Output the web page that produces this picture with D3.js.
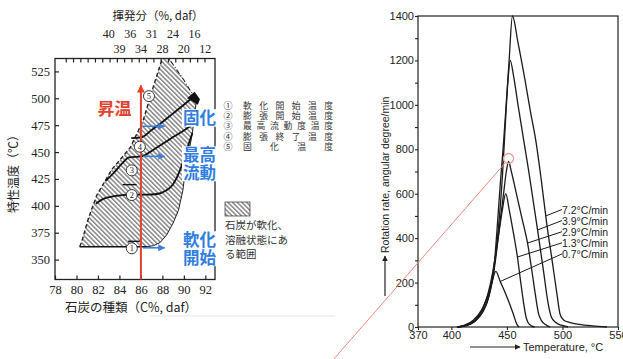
<!DOCTYPE html>
<meta charset="utf-8">
<style>
body { margin: 0; background: #fff; }
svg { display: block; }
</style>
<svg width="623" height="359"></svg>
<script src="https://cdn.jsdelivr.net/npm/d3@7"></script>
<script>
// ---- left figure: characteristic temperatures vs coal rank ----
var carbonTicks = [78, 80, 82, 84, 86, 88, 90, 92];
var tempTicks = [350, 375, 400, 425, 450, 475, 500, 525];
var vmCarbon = [83, 84, 85, 86, 87, 88, 89, 90, 91, 92];
var vmLabels = ["40", "39", "36", "34", "31", "28", "24", "20", "16", "12"];

// softened / molten zone outline (C%, temperature)
var zoneLeft = [[80.3,362],[80.5,367],[81.1,388],[81.9,410],[83.3,434],[85.0,454],[86.2,479],[87.1,509],[87.8,531],[88.0,537]];
var zoneUpper = [[88.0,537],[88.6,537],[89.3,527],[90.0,517],[90.6,507],[91.2,499]];
var zoneRight = [[91.2,499],[91.0,486],[90.8,468],[90.5,452],[90.2,437],[89.9,414],[89.5,396],[89.0,384],[88.4,373],[87.8,366],[87.2,363],[86.6,362],[80.3,362]];

var curve2 = [[81.8,402],[82.5,406.5],[83.5,409],[85,410.5],[86.5,410.5],[87.5,411],[88.3,414],[89,420],[89.6,432],[90.2,450],[90.8,468]];
var curve3 = [[82.7,423],[83.5,431],[84.3,440],[84.9,445],[86.1,446],[87,451],[88,457.5],[89,464],[90,470],[90.9,476]];
var curve4 = [[85.1,463],[86.0,463.5],[87,470.5],[88,478],[89,486],[90,494],[90.6,499]];
var blob = [[90.3,500],[91.0,506],[91.5,499],[91.3,494]];
var markBars = [[84.8,85.9,367],[84.3,85.6,419.7]];

var markNames = ["軟化開始温度", "膨張開始温度", "最高流動度温度", "膨張終了温度", "固化温度"];
var markSymbols = ["①", "②", "③", "④", "⑤"];
var markPoints = [[85.15,360.5],[85.15,410],[85.15,433],[85.9,455],[86.75,502]];
var riseCarbon = 86, riseTop = 512;
var blueArrows = [474, 446, 361];
var blueLabels = [["固化"], ["最高", "流動"], ["軟化", "開始"]];
var blueLabelTemps = [481.5, 447, 368];
var zoneNote = ["石炭が軟化、", "溶融状態にあ", "る範囲"];

// ---- right figure: rotation rate vs temperature ----
var rates = ["7.2°C/min", "3.9°C/min", "2.9°C/min", "1.3°C/min", "0.7°C/min"];
var rate72 = [[405,0],[412,5],[420,22],[427,60],[432,115],[436,200],[439,300],[441,430],[444,640],[447,830],[450,1050],[452,1200],[455,1400],[460,1280],[466,1120],[471,975],[476,840],[481,660],[486,460],[491,290],[495,150],[498,55],[501,32],[507,20],[515,12],[527,5],[540,0]];
var rate39 = [[406,0],[413,6],[421,25],[428,65],[433,125],[437,215],[440,330],[443,480],[446,680],[449,950],[451,1110],[453,1200],[456,1130],[460,1000],[465,845],[470,690],[477.6,437],[483,250],[487,110],[490,45],[494,20],[499,8],[505,0]];
var rate29 = [[406,0],[414,7],[422,30],[429,75],[434,140],[438,240],[441,350],[444,480],[447,600],[449.5,700],[451.5,745],[454,700],[459,590],[464,480],[468.6,378],[472,270],[475.5,150],[478.5,60],[481,30],[485,10],[489,0]];
var rate13 = [[406,0],[413,8],[421,32],[428,80],[433,150],[437,240],[440,330],[443,430],[446,530],[449,600],[452,530],[456,420],[459.5,315],[462.5,200],[465,110],[467,50],[469,20],[472,5],[475,0]];
var rate07 = [[405,0],[412,8],[420,32],[427,75],[432,130],[436,190],[440,250],[444,205],[448,160],[452,110],[456,55],[459,12],[461,0]];
var rateSeries = [rate72, rate39, rate29, rate13, rate07];
var labelT = [485, 477.6, 468.6, 459.5, 444];
var rotTicks = [0, 200, 400, 600, 800, 1000, 1200, 1400];
var tempTicksR = [370, 400, 450, 500, 550];

var serif = "'Liberation Serif', 'DejaVu Serif', serif";
var jp = "'Noto Sans CJK JP', sans-serif";
var sans = "'Liberation Sans', Arial, sans-serif";

var svg = d3.select("svg");
var defs = svg.append("defs");
defs.append("pattern").attr("id", "hatch").attr("patternUnits", "userSpaceOnUse")
    .attr("width", 3.3).attr("height", 3.3).attr("patternTransform", "rotate(-45)")
  .append("line").attr("x1", 1.6).attr("y1", 0).attr("x2", 1.6).attr("y2", 3.3)
    .attr("stroke", "#2a2a2a").attr("stroke-width", 0.85);

function arrowMarker(id, color, size) {
  defs.append("marker").attr("id", id).attr("viewBox", "0 0 10 10")
      .attr("refX", 9).attr("refY", 5).attr("markerWidth", size).attr("markerHeight", size)
      .attr("markerUnits", "userSpaceOnUse").attr("orient", "auto")
    .append("path").attr("d", "M0,0L10,5L0,10z").attr("fill", color);
}
arrowMarker("arRed", "#e2412d", 8);
arrowMarker("arBlue", "#3b7fd8", 7);
arrowMarker("arBlack", "#222", 6);

// faint scan line
svg.append("line").attr("x1", 150).attr("x2", 335).attr("y1", 316).attr("y2", 316)
    .attr("stroke", "#e6e6e6").attr("stroke-width", 1);

// ================= left chart =================
var xL = d3.scaleLinear().domain([78, 92.9]).range([55, 215]);
var yL = d3.scaleLinear().domain([331.5, 537]).range([279.5, 58.5]);
var lineL = d3.line().x(function(d) { return xL(d[0]); }).y(function(d) { return yL(d[1]); });
var smoothL = d3.line().x(function(d) { return xL(d[0]); }).y(function(d) { return yL(d[1]); }).curve(d3.curveMonotoneX);

var left = svg.append("g");

left.append("path")
    .attr("d", lineL(zoneLeft.concat(zoneUpper.slice(1), zoneRight.slice(1))) + "Z")
    .attr("fill", "url(#hatch)");

left.append("path").attr("d", lineL(zoneLeft)).attr("fill", "none")
    .attr("stroke", "#222").attr("stroke-width", 1.4).attr("stroke-dasharray", "4,2.5");
left.append("path").attr("d", lineL(zoneUpper)).attr("fill", "none")
    .attr("stroke", "#222").attr("stroke-width", 1.1).attr("stroke-dasharray", "5,2,1,2");
left.append("path").attr("d", lineL(zoneRight.slice(0, -1))).attr("fill", "none")
    .attr("stroke", "#222").attr("stroke-width", 1);
left.append("path").attr("d", lineL(zoneRight.slice(-2))).attr("fill", "none")
    .attr("stroke", "#111").attr("stroke-width", 1.6);

[curve2, curve3, curve4].forEach(function(c) {
  left.append("path").attr("d", smoothL(c)).attr("fill", "none")
      .attr("stroke", "#111").attr("stroke-width", 1.8);
});
left.append("path").attr("d", lineL(blob) + "Z").attr("fill", "#111");

markBars.forEach(function(b) {
  left.append("line").attr("x1", xL(b[0])).attr("x2", xL(b[1]))
      .attr("y1", yL(b[2])).attr("y2", yL(b[2])).attr("stroke", "#111").attr("stroke-width", 1.4);
});

// frame and axes
left.append("rect").attr("x", xL(78)).attr("y", yL(537))
    .attr("width", xL(92.9) - xL(78)).attr("height", yL(331.5) - yL(537))
    .attr("fill", "none").attr("stroke", "#222").attr("stroke-width", 1.3);

var axL = left.append("g").attr("transform", "translate(" + xL(78) + ",0)")
    .call(d3.axisLeft(yL).tickValues(tempTicks).tickSizeInner(-4).tickSizeOuter(0).tickPadding(5));
var axB = left.append("g").attr("transform", "translate(0," + yL(331.5) + ")")
    .call(d3.axisBottom(xL).tickValues(carbonTicks).tickSizeInner(-4).tickSizeOuter(0).tickPadding(6));
var axT = left.append("g").attr("transform", "translate(0," + yL(537) + ")")
    .call(d3.axisTop(xL).tickValues(d3.range(79, 92.6, 0.68)).tickSizeInner(-4).tickSizeOuter(0).tickFormat(""));
[axL, axB, axT].forEach(function(a) {
  a.select(".domain").remove();
  a.selectAll("line").attr("stroke", "#222").attr("stroke-width", 1.2);
  a.selectAll("text").attr("font-family", serif).attr("font-size", 12.5).attr("fill", "#222");
});

left.selectAll(".vm").data(vmCarbon).enter().append("text")
    .attr("x", function(d) { return xL(d); })
    .attr("y", function(d, i) { return i % 2 === 0 ? 37.5 : 52.5; })
    .attr("text-anchor", "middle").attr("font-family", serif).attr("font-size", 12).attr("fill", "#222")
    .text(function(d, i) { return vmLabels[i]; });

left.append("text").attr("x", 158).attr("y", 19.5).attr("text-anchor", "middle")
    .attr("font-family", jp).attr("font-size", 11.5).attr("fill", "#222").text("揮発分（%, daf）");
left.append("text").attr("x", 131).attr("y", 311.5).attr("text-anchor", "middle")
    .attr("font-family", jp).attr("font-size", 12.5).attr("fill", "#222").text("石炭の種類（C%, daf）");
left.append("text").attr("transform", "translate(18,171) rotate(-90)").attr("text-anchor", "middle")
    .attr("font-family", jp).attr("font-size", 12).attr("fill", "#222").text("特性温度（℃）");

// heating direction
left.append("line").attr("x1", xL(riseCarbon)).attr("x2", xL(riseCarbon))
    .attr("y1", yL(331.5)).attr("y2", yL(riseTop))
    .attr("stroke", "#e2412d").attr("stroke-width", 2).attr("marker-end", "url(#arRed)");
left.append("text").attr("x", 114.5).attr("y", 115).attr("text-anchor", "middle")
    .attr("font-family", jp).attr("font-size", 17).attr("font-weight", "bold").attr("fill", "#e2412d").text("昇温");

blueArrows.forEach(function(t) {
  left.append("line").attr("x1", xL(riseCarbon) + 2).attr("x2", xL(88.2))
      .attr("y1", yL(t)).attr("y2", yL(t))
      .attr("stroke", "#3b7fd8").attr("stroke-width", 1.6).attr("marker-end", "url(#arBlue)");
});

blueLabels.forEach(function(lines, i) {
  var y0 = yL(blueLabelTemps[i]);
  left.append("rect").attr("x", 182).attr("y", y0 - 9).attr("width", 36).attr("height", lines.length * 17.5)
      .attr("fill", "#fff");
  lines.forEach(function(s, j) {
    left.append("text").attr("x", 183).attr("y", y0 + 6 + j * 17.5)
        .attr("font-family", jp).attr("font-size", 16.5).attr("font-weight", "bold")
        .attr("fill", "#2f7de0").text(s);
  });
});

markPoints.forEach(function(p, i) {
  var g = left.append("g").attr("transform", "translate(" + xL(p[0]) + "," + yL(p[1]) + ")");
  g.append("circle").attr("r", 5.5).attr("fill", "#fff").attr("stroke", "#222").attr("stroke-width", 0.9);
  g.append("text").attr("y", 3).attr("text-anchor", "middle").attr("font-family", serif)
      .attr("font-size", 8.5).attr("fill", "#222").text(i + 1);
});

// legend
markNames.forEach(function(s, i) {
  var y = 108.5 + i * 10.4;
  left.append("text").attr("x", 228).attr("y", y).attr("text-anchor", "middle")
      .attr("font-family", jp).attr("font-size", 9).attr("fill", "#333").text(markSymbols[i]);
  left.append("text").attr("x", 243).attr("y", y).attr("textLength", 90).attr("lengthAdjust", "spacing")
      .attr("font-family", jp).attr("font-size", 8.8).attr("fill", "#333").text(s);
});
left.append("rect").attr("x", 225).attr("y", 202).attr("width", 25).attr("height", 14)
    .attr("fill", "url(#hatch)").attr("stroke", "#333").attr("stroke-width", 0.7);
zoneNote.forEach(function(s, i) {
  left.append("text").attr("x", 225).attr("y", 229 + i * 14.5)
      .attr("font-family", jp).attr("font-size", 10.5).attr("fill", "#333").text(s);
});

// ================= right chart =================
var xR = d3.scaleLinear().domain([370, 550]).range([418, 618]);
var yR = d3.scaleLinear().domain([0, 1400]).range([327, 16]);
var lineR = d3.line().x(function(d) { return xR(d[0]); }).y(function(d) { return yR(d[1]); }).curve(d3.curveMonotoneX);

var right = svg.append("g");
right.append("rect").attr("x", xR(370)).attr("y", yR(1400))
    .attr("width", xR(550) - xR(370)).attr("height", yR(0) - yR(1400))
    .attr("fill", "none").attr("stroke", "#222").attr("stroke-width", 1.2);

var ayR = right.append("g").attr("transform", "translate(" + xR(370) + ",0)")
    .call(d3.axisLeft(yR).tickValues(d3.range(0, 1401, 100)).tickSize(3).tickPadding(1)
      .tickFormat(function(d) { return rotTicks.indexOf(d) >= 0 ? d : ""; }));
var axR = right.append("g").attr("transform", "translate(0," + yR(0) + ")")
    .call(d3.axisBottom(xR).tickValues(tempTicksR).tickSize(3).tickPadding(1));
[ayR, axR].forEach(function(a) {
  a.select(".domain").remove();
  a.selectAll("line").attr("stroke", "#222").attr("stroke-width", 1.1);
  a.selectAll("text").attr("font-family", sans).attr("font-size", 11).attr("fill", "#222");
});

rateSeries.forEach(function(pts) {
  right.append("path").attr("d", lineR(pts)).attr("fill", "none")
      .attr("stroke", "#1a1a1a").attr("stroke-width", 1.3);
});

function fallingValue(pts, t) {
  var peak = d3.maxIndex(pts, function(d) { return d[1]; });
  for (var j = peak; j < pts.length - 1; j++) {
    if (pts[j][0] <= t && pts[j + 1][0] >= t) {
      var f = (t - pts[j][0]) / (pts[j + 1][0] - pts[j][0]);
      return pts[j][1] + f * (pts[j + 1][1] - pts[j][1]);
    }
  }
  return 0;
}

rates.forEach(function(name, i) {
  var t = labelT[i], v = fallingValue(rateSeries[i], t);
  var ly = 209.5 + i * 11.1;
  right.append("line").attr("x1", xR(t)).attr("y1", yR(v)).attr("x2", 562).attr("y2", ly)
      .attr("stroke", "#1a1a1a").attr("stroke-width", 1);
  right.append("text").attr("x", 562).attr("y", ly + 4)
      .attr("font-family", sans).attr("font-size", 10.5).attr("fill", "#222").text(name);
});

right.append("line").attr("x1", 385).attr("x2", 385).attr("y1", 296).attr("y2", 256)
    .attr("stroke", "#222").attr("stroke-width", 1.2).attr("marker-end", "url(#arBlack)");
right.append("text").attr("transform", "translate(389,253) rotate(-90)")
    .attr("font-family", sans).attr("font-size", 10.5).attr("fill", "#222")
    .text("Rotation rate, angular degree/min");
right.append("line").attr("x1", 470).attr("x2", 520).attr("y1", 347).attr("y2", 347)
    .attr("stroke", "#222").attr("stroke-width", 1.2).attr("marker-end", "url(#arBlack)");
right.append("text").attr("x", 523).attr("y", 351)
    .attr("font-family", sans).attr("font-size", 11).attr("fill", "#222").text("Temperature, °C");

// red annotation at the 2.9 °C/min peak
var pk = d3.greatest(rate29, function(d) { return d[1]; });
var cx = xR(pk[0]), cy = yR(pk[1]) - 3;
right.append("line").attr("x1", cx - 3).attr("y1", cy + 4).attr("x2", cx - 176).attr("y2", cy + 202)
    .attr("stroke", "#ee8c80").attr("stroke-width", 1);
right.append("circle").attr("cx", cx).attr("cy", cy).attr("r", 5)
    .attr("fill", "none").attr("stroke", "#f0a098").attr("stroke-width", 1.3);
</script>
